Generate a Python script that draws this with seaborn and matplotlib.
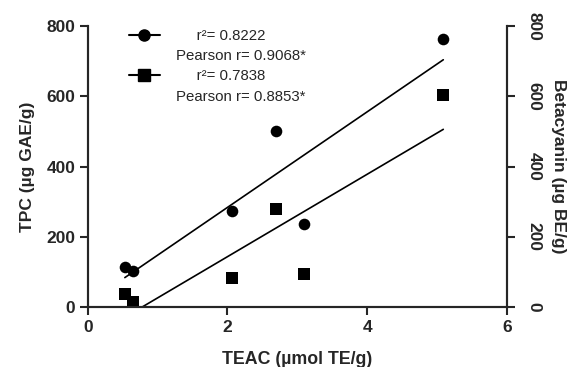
import numpy as np
import pandas as pd
import seaborn as sns
import matplotlib.pyplot as plt
from matplotlib.lines import Line2D

# values
teac = [0.53, 0.64, 2.07, 2.69, 3.09, 5.09]
tpc = [115, 102, 275, 500, 237, 762]
betacyanin = [37, 15, 82, 280, 93, 603]
labels = ["     r²= 0.8222", "Pearson r= 0.9068*", "     r²= 0.7838", "Pearson r= 0.8853*"]
ticks_x = [0, 2, 4, 6]
ticks_y = [0, 200, 400, 600, 800]

sns.set_style("ticks")
plt.rcParams['font.family'] = ['Liberation Sans', 'DejaVu Sans']

df = pd.DataFrame({"TEAC": teac, "TPC": tpc, "Betacyanin": betacyanin})

fig = plt.figure(figsize=(5.74, 3.67), dpi=100)
ax = fig.add_axes([0.153, 0.163, 0.730, 0.766])
ax2 = ax.twinx()

sns.regplot(data=df, x="TEAC", y="TPC", ax=ax, ci=None, color="black", marker="o",
            scatter_kws={"s": 70, "alpha": 1, "linewidths": 0}, line_kws={"lw": 1.2})
sns.regplot(data=df, x="TEAC", y="Betacyanin", ax=ax2, ci=None, color="black", marker="s",
            scatter_kws={"s": 70, "alpha": 1, "linewidths": 0}, line_kws={"lw": 1.2})

for a in (ax, ax2):
    a.set_xlim(0, 6)
    a.set_ylim(0, 800)
    a.set_yticks(ticks_y)
    a.spines['top'].set_visible(False)
    for s in a.spines.values():
        s.set_linewidth(1.5)
    a.tick_params(width=1.5, length=6, labelsize=12.5, direction="out", pad=3)
    for t in a.get_yticklabels():
        t.set_fontweight("bold")
ax2.tick_params(axis="y", pad=8)

ax.set_xticks(ticks_x)
for t in ax.get_xticklabels():
    t.set_fontweight("bold")
ax.set_xlabel("TEAC (µmol TE/g)", fontsize=12.8, fontweight="bold", labelpad=12)
ax.set_ylabel("TPC (µg GAE/g)", fontsize=12.5, fontweight="bold", labelpad=8)
ax2.set_ylabel("Betacyanin (µg BE/g)", fontsize=12.5, fontweight="bold", rotation=270, labelpad=18)
for t in ax2.get_yticklabels():
    t.set_rotation(270)
    t.set_va("center")

blank = Line2D([], [], lw=0)
handles = [Line2D([], [], color="black", marker="o", markersize=8, lw=1.5), blank,
           Line2D([], [], color="black", marker="s", markersize=8, lw=1.5), blank]
leg = ax.legend(handles, labels, loc="upper left", bbox_to_anchor=(0.098, 0.99), frameon=False,
                fontsize=10.8, handlelength=2.05, handletextpad=1.1, labelspacing=0.42,
                borderpad=0, borderaxespad=0)

fig.savefig("out.png", dpi=100)
